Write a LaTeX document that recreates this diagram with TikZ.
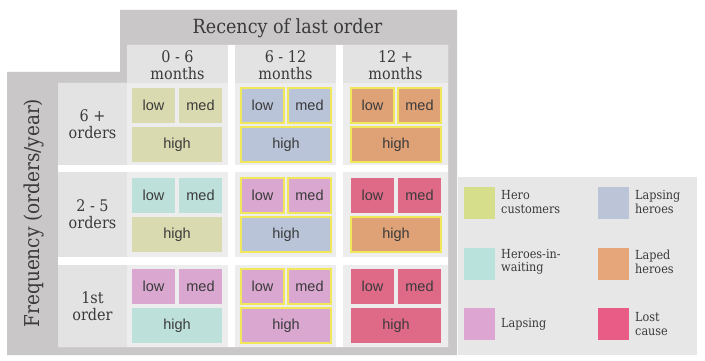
\documentclass[tikz,border=0pt]{standalone}
\usepackage{fontspec}
\setmainfont{DejaVu Serif Condensed}
\newfontfamily\cellfont{Liberation Sans}
\definecolor{band}{HTML}{C9C7C8}
\definecolor{hdr}{HTML}{E4E3E4}
\definecolor{bodyc}{HTML}{EEEDEE}
\definecolor{legbg}{HTML}{E8E7E8}
\definecolor{txt}{HTML}{3A3A3A}
\definecolor{hero}{HTML}{D9DAAF}
\definecolor{lhero}{HTML}{B9C4D9}
\definecolor{wait}{HTML}{BEE0DA}
\definecolor{lapd}{HTML}{DFA277}
\definecolor{laps}{HTML}{D9A7D0}
\definecolor{lost}{HTML}{DF6A88}
\definecolor{ylw}{HTML}{F0E85A}
\definecolor{heroL}{HTML}{D6DE8C}
\definecolor{lheroL}{HTML}{BCC5D8}
\definecolor{waitL}{HTML}{B8E2DB}
\definecolor{lapdL}{HTML}{E6A67A}
\definecolor{lapsL}{HTML}{DDA5D2}
\definecolor{lostL}{HTML}{E95C86}
\tikzset{
  box/.style={inner sep=0pt, text=txt, font=\cellfont\fontsize{14.5}{16}\selectfont},
  hl/.style={draw=ylw, line width=1.6pt},
  hdrtext/.style={text=txt, align=center, font=\fontsize{16}{16.5}\selectfont, inner sep=0pt},
  legtext/.style={text=txt, align=left, anchor=west, font=\fontsize{12.5}{13.5}\selectfont, inner sep=0pt},
  swatch/.style={minimum width=31pt, minimum height=32pt, inner sep=0pt},
}
\newcommand\mybox[7]{\node[box,#6,minimum width=#4pt,minimum height=#5pt] (#1) at ({#2+#4/2},{#3+#5/2}) {#7};}
\newcommand\cellgroup[6]{%
  \mybox{#1l}{#2}{#3}{43}{35}{#4}{low}%
  \mybox{#1m}{#2+47}{#3}{43}{35}{#5}{med}%
  \mybox{#1h}{#2}{#3+39}{90}{35}{#6}{high}%
}
\begin{document}
\begin{tikzpicture}[x=1pt,y=-1pt]
\useasboundingbox (0,0) rectangle (705,361);
\fill[white] (0,0) rectangle (705,361);
% dark band
\fill[band] (120,10) -- (457,10) -- (457,355) -- (7,355) -- (7,72) -- (120,72) -- cycle;
\fill[white] (127,45) -- (448,45) -- (448,347) -- (58,347) -- (58,83) -- (127,83) -- cycle;
% header cells
\fill[hdr] (127,45) rectangle (228,83);
\fill[hdr] (235,45) rectangle (336,83);
\fill[hdr] (343,45) rectangle (448,83);
% row header cells
\fill[hdr] (58,83) rectangle (127,165);
\fill[hdr] (58,172) rectangle (127,257);
\fill[hdr] (58,265) rectangle (127,347);
% body cells
\foreach \ya/\yb in {83/165,172/257,265/347}{
  \fill[bodyc] (127,\ya) rectangle (228,\yb);
  \fill[bodyc] (235,\ya) rectangle (336,\yb);
  \fill[bodyc] (343,\ya) rectangle (448,\yb);
}
% titles
\node[text=txt, inner sep=0pt, font=\fontsize{19.5}{21}\selectfont] (title) at (287.5,28) {Recency of last order};
\node[hdrtext] (ch1) at (177.5,65) {0 - 6\\months};
\node[hdrtext] (ch2) at (285.5,65) {6 - 12\\months};
\node[hdrtext] (ch3) at (395.5,65) {12 +\\months};
\node[hdrtext] (rh1) at (92.5,124) {6 +\\orders};
\node[hdrtext] (rh2) at (92.5,214) {2 - 5\\orders};
\node[hdrtext] (rh3) at (92.5,306) {1st\\order};
\node[text=txt, inner sep=0pt, rotate=90, font=\fontsize{20.5}{22}\selectfont] (ylab) at (34,213) {Frequency (orders/year)};
% boxes
\cellgroup{a}{132}{88}{fill=hero}{fill=hero}{fill=hero}
\cellgroup{b}{132}{178}{fill=wait}{fill=wait}{fill=hero}
\cellgroup{c}{132}{269}{fill=laps}{fill=laps}{fill=wait}
\cellgroup{d}{241}{88}{fill=lhero,hl}{fill=lhero,hl}{fill=lhero,hl}
\cellgroup{e}{241}{178}{fill=laps,hl}{fill=laps,hl}{fill=lhero,hl}
\cellgroup{f}{241}{269}{fill=laps,hl}{fill=laps,hl}{fill=laps,hl}
\cellgroup{g}{351}{88}{fill=lapd,hl}{fill=lapd,hl}{fill=lapd,hl}
\cellgroup{h}{351}{178}{fill=lost}{fill=lost}{fill=lapd,hl}
\cellgroup{i}{351}{269}{fill=lost}{fill=lost}{fill=lost}
% legend
\fill[legbg] (458,177) rectangle (697,355);
\node[swatch, fill=heroL] (s1) at (479.5,203) {};
\node[swatch, fill=waitL] (s2) at (479.5,263.5) {};
\node[swatch, fill=lapsL] (s3) at (479.5,324) {};
\node[swatch, fill=lheroL] (s4) at (613.5,203) {};
\node[swatch, fill=lapdL] (s5) at (613.5,263.5) {};
\node[swatch, fill=lostL] (s6) at (613.5,324) {};
\node[legtext] (l1) at (501,202) {Hero\\customers};
\node[legtext] (l2) at (501,262) {Heroes-in-\\waiting};
\node[legtext] (l3) at (501,324) {Lapsing};
\node[legtext] (l4) at (635,202) {Lapsing\\heroes};
\node[legtext] (l5) at (635,262) {Laped\\heroes};
\node[legtext] (l6) at (635,324) {Lost\\cause};
\end{tikzpicture}
\end{document}
